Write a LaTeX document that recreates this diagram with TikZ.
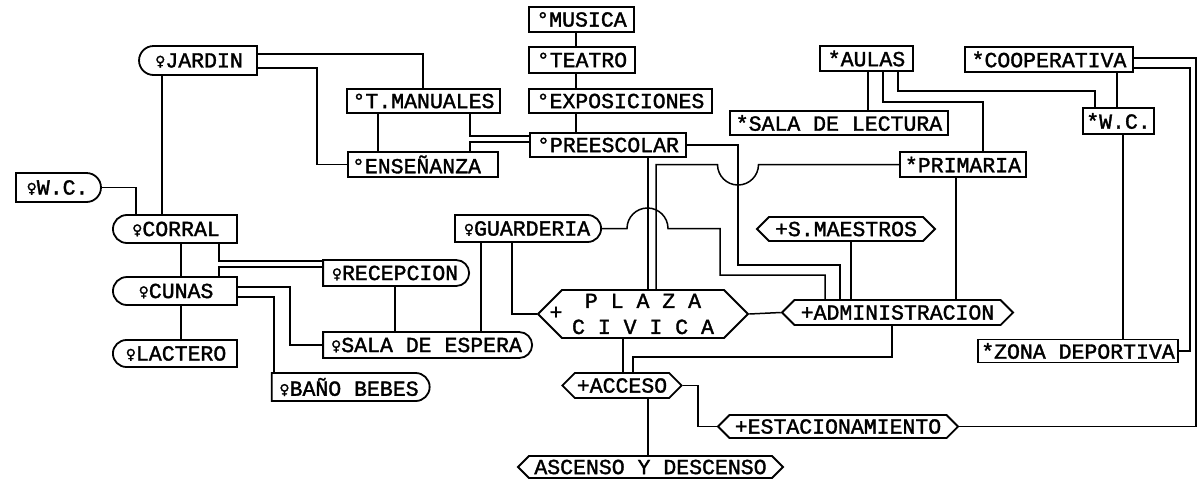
\documentclass[tikz,border=0pt]{standalone}
\usepackage{fontspec}
\setmainfont{Liberation Mono}[FakeBold=1.6,AutoFakeBold=1.6]
\newfontfamily\femfont{DejaVu Sans}[FakeBold=1.5,AutoFakeBold=1.5]
\usetikzlibrary{shapes.misc,shapes.symbols}
\newcommand\femsign{{\femfont\bfseries\fontsize{14}{14}\selectfont\raisebox{1.5pt}{♀}}}
\begin{document}
\begin{tikzpicture}[x=1pt,y=-1pt, line width=1.5pt,
  every node/.style={font=\bfseries\fontsize{21.5}{26}\selectfont, inner sep=2pt, line width=1.8pt},
  rbox/.style={draw, rectangle},
  rleft/.style={draw, rounded rectangle, rounded rectangle right arc=none},
  rright/.style={draw, rounded rectangle, rounded rectangle left arc=none},
  hexa/.style={draw, signal, signal to=west and east, signal pointer angle=90},
  sz/.style 2 args={minimum width=#1pt, minimum height=#2pt}]
\path[use as bounding box] (0,0) rectangle (1198,485);
% plain boxes
\node[rbox, sz={105}{25}] (mus) at (581.5,19.5) {°MUSICA};
\node[rbox, sz={106}{26}] (tea) at (582,60) {°TEATRO};
\node[rbox, sz={183}{24}] (exp) at (620.5,101) {°EXPOSICIONES};
\node[rbox, sz={156}{24}] (pre) at (608,145) {°PREESCOLAR};
\node[rbox, sz={153}{24}] (tman) at (423.5,101) {°T.MANUALES};
\node[rbox, sz={150}{25}, text width=142pt, align=left] (ens) at (423,164.5) {°ENSEÑANZA};
\node[rbox, sz={93}{25}] (aulas) at (866.5,58.5) {*AULAS};
\node[rbox, sz={218}{24}] (lect) at (839,123) {*SALA DE LECTURA};
\node[rbox, sz={126}{25}] (prim) at (963,164.5) {*PRIMARIA};
\node[rbox, sz={168}{25}] (coop) at (1049,59.5) {*COOPERATIVA};
\node[rbox, sz={71}{26}] (wcs) at (1118.5,121) {*W.C.};
\node[rbox, sz={200}{23}] (zona) at (1078,351) {*ZONA DEPORTIVA};
% rounded boxes
\node[rleft, sz={122}{29}] (jardin) at (199,60.5) {\femsign JARDIN};
\node[rleft, sz={128}{28}] (corral) at (176,229) {\femsign CORRAL};
\node[rleft, sz={128}{28}] (cunas) at (176,291) {\femsign CUNAS};
\node[rleft, sz={128}{27}] (lact) at (176,353.5) {\femsign LACTERO};
\node[rright, sz={89}{29}] (wcf) at (57.5,187.5) {\femsign W.C.};
\node[rright, sz={150}{27}] (guard) at (527,228.5) {\femsign GUARDERIA};
\node[rright, sz={150}{26}] (recep) at (395,273) {\femsign RECEPCION};
\node[rright, sz={213}{26}] (sala) at (426.5,345) {\femsign SALA DE ESPERA};
\node[rright, sz={162}{28}] (bano) at (349,387) {\femsign BAÑO BEBES};
% hexagons
\node[hexa, sz={178}{24}] (smaes) at (846,229) {+S.MAESTROS};
\node[hexa, sz={231}{25}] (admin) at (897.5,312.5) {+ADMINISTRACION};
\node[hexa, sz={114}{25}] (acc) at (622,385.5) {+ACCESO};
\node[hexa, sz={240}{23}] (est) at (838,426.5) {+ESTACIONAMIENTO};
\node[hexa, sz={265}{22}] (asc) at (650.5,467) {ASCENSO Y DESCENSO};
\node[hexa, sz={210}{48}, align=center] (plaza) at (643,314) {P L A Z A\\C I V I C A};
\node (plus) at (556,313) {+};
% connectors
\draw (mus.south -| 576,0) -- (tea.north -| 576,0);
\draw (tea.south -| 576,0) -- (exp.north -| 576,0);
\draw (exp.south -| 576,0) -- (pre.north -| 576,0);
\draw (jardin.east |- 0,54) -| (tman.north -| 423,0);
\draw (jardin.east |- 0,68) -- (317,68) |- (ens.west);
\draw (jardin.south -| 162,0) -- (corral.north -| 162,0);
\draw (tman.south -| 378,0) -- (ens.north -| 378,0);
\draw (tman.south -| 470,0) |- (pre.west |- 0,136);
\draw (ens.north -| 470,0) |- (pre.west |- 0,142);
\draw (pre.south -| 648,0) -- (plaza.north -| 648,0);
\draw (pre.east) -| (738,265) -| (admin.north -| 840,0);
\draw (prim.west) -- (758.5,164.5) arc[start angle=0, end angle=180, radius=20.5] -- (656,164.5) -- (plaza.north -| 656,0);
\draw (guard.east) -- (627,228.5) arc[start angle=180, end angle=360, radius=20.5] -- (720,228.5) |- (825,275) -- (admin.north -| 825,0);
\draw (smaes.south -| 851,0) -- (admin.north -| 851,0);
\draw (prim.south -| 956,0) -- (admin.north -| 956,0);
\draw (plaza.east) -- (admin.west);
\draw (guard.south -| 512,0) |- (plaza.west);
\draw (guard.south -| 481,0) -- (sala.north -| 481,0);
\draw (plaza.south -| 623,0) -- (acc.north -| 623,0);
\draw (admin.south -| 892,0) -- (892,357) -| (acc.north -| 633,0);
\draw (acc.east) -- (698,385.5) |- (est.west);
\draw (acc.south -| 648,0) -- (asc.north -| 648,0);
\draw (est.east) -- (1196,426.5) -- (1196,58) -- (coop.east |- 0,58);
\draw (coop.east |- 0,68) -- (1190,68) |- (zona.east);
\draw (coop.south -| 1117,0) -- (wcs.north -| 1117,0);
\draw (wcs.south -| 1123,0) -- (zona.north -| 1123,0);
\draw (aulas.south -| 868,0) -- (lect.north -| 868,0);
\draw (aulas.south -| 883,0) |- (983,102) -- (prim.north -| 983,0);
\draw (aulas.south -| 898,0) |- (1095,91) -- (wcs.north -| 1095,0);
\draw (wcf.east) -| (corral.north -| 136,0);
\draw (corral.south -| 181,0) -- (cunas.north -| 181,0);
\draw (corral.south -| 219,0) |- (recep.west |- 0,261);
\draw (cunas.north -| 219,0) |- (recep.west |- 0,267);
\draw (cunas.east |- 0,287) -| (290,345) -- (sala.west);
\draw (cunas.east |- 0,297) -| (bano.north -| 274,0);
\draw (cunas.south -| 181,0) -- (lact.north -| 181,0);
\draw (recep.south -| 395,0) -- (sala.north -| 395,0);
\end{tikzpicture}
\end{document}
